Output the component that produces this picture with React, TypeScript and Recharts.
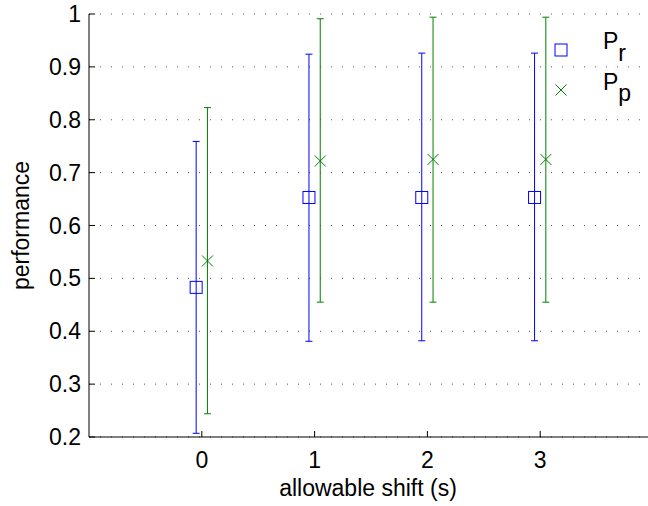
import React from 'react';
import { ScatterChart, Scatter, XAxis, YAxis, CartesianGrid, ErrorBar, Legend } from 'recharts';

const shifts = [0, 1, 2, 3];
const prMean = [0.483, 0.653, 0.653, 0.653];
const prLow = [0.207, 0.381, 0.382, 0.382];
const prHigh = [0.759, 0.924, 0.926, 0.926];
const ppMean = [0.533, 0.722, 0.725, 0.725];
const ppLow = [0.244, 0.455, 0.455, 0.455];
const ppHigh = [0.823, 0.991, 0.994, 0.994];
const xTicks = [0, 1, 2, 3];
const yTicks = [0.2, 0.3, 0.4, 0.5, 0.6, 0.7, 0.8, 0.9, 1];
const yTickLabels = ['0.2', '0.3', '0.4', '0.5', '0.6', '0.7', '0.8', '0.9', '1'];
const seriesNames = ['r', 'p'];

const OFFSET = 0.05;
const BLUE = '#0000ff';
const GREEN = '#008000';
const FONT = '"Liberation Sans", Arial, Helvetica, sans-serif';

const prData = shifts.map((s, i) => ({
  x: s - OFFSET,
  y: prMean[i],
  errR: [prMean[i] - prLow[i], prHigh[i] - prMean[i]],
}));
const ppData = shifts.map((s, i) => ({
  x: s + OFFSET,
  y: ppMean[i],
  errP: [ppMean[i] - ppLow[i], ppHigh[i] - ppMean[i]],
}));

const SquareShape = (props: any) => {
  const { cx, cy } = props;
  return <rect x={cx - 6} y={cy - 6} width={12} height={12} fill="none" stroke={BLUE} strokeWidth={1} />;
};
const CrossShape = (props: any) => {
  const { cx, cy } = props;
  const r = 5.5;
  return (
    <g stroke={GREEN} strokeWidth={1}>
      <line x1={cx - r} y1={cy - r} x2={cx + r} y2={cy + r} />
      <line x1={cx - r} y1={cy + r} x2={cx + r} y2={cy - r} />
    </g>
  );
};

const XTick = (props: any) => {
  const { x, y, payload } = props;
  return (
    <g>
      <line x1={x} x2={x} y1={y} y2={y - 6} stroke="#000" strokeWidth={1} />
      <text x={x} y={y + 31} textAnchor="middle" fontSize={23} fontFamily={FONT} fill="#000">
        {String(payload.value)}
      </text>
    </g>
  );
};

const YTick = (props: any) => {
  const { x, y, payload } = props;
  const idx = yTicks.indexOf(payload.value);
  const label = idx >= 0 ? yTickLabels[idx] : String(payload.value);
  return (
    <g>
      <line x1={x} x2={x + 6} y1={y} y2={y} stroke="#000" strokeWidth={1} />
      <text x={x - 8} y={y + 8} textAnchor="end" fontSize={23} fontFamily={FONT} fill="#000">
        {label}
      </text>
    </g>
  );
};

const LegendContent = () => (
  <svg width={108} height={100} style={{ display: 'block' }}>
    <rect x={15} y={24} width={12} height={12} fill="none" stroke={BLUE} strokeWidth={1} />
    <g stroke={GREEN} strokeWidth={1}>
      <line x1={15.5} y1={64.5} x2={26.5} y2={75.5} />
      <line x1={15.5} y1={75.5} x2={26.5} y2={64.5} />
    </g>
    <text x={63} y={29} fontSize={23} fontFamily={FONT} fill="#000">
      P<tspan dy={12}>{seriesNames[0]}</tspan>
    </text>
    <text x={63} y={70} fontSize={23} fontFamily={FONT} fill="#000">
      P<tspan dy={11}>{seriesNames[1]}</tspan>
    </text>
  </svg>
);

export default function App() {
  return (
    <div style={{ position: 'absolute', left: 0, top: 0, width: 648, height: 506, overflow: 'hidden', background: '#fff' }}>
      <ScatterChart width={653} height={506} margin={{ top: 14, right: 0, bottom: 0, left: 0 }}>
        <CartesianGrid vertical={false} stroke="#555" strokeDasharray="1 10" />
        <XAxis
          dataKey="x"
          type="number"
          domain={[-1, 4]}
          ticks={xTicks}
          height={69}
          tickSize={0}
          tickMargin={0}
          tick={<XTick />}
          axisLine={{ stroke: '#000', strokeWidth: 1 }}
          tickLine={false}
          interval={0}
          label={(p: any) => (
            <text x={368} y={496} textAnchor="middle" fontSize={23} fontFamily={FONT} fill="#000">
              allowable shift (s)
            </text>
          )}
        />
        <YAxis
          dataKey="y"
          type="number"
          domain={[0.2, 1]}
          ticks={yTicks}
          width={89}
          tickSize={0}
          tickMargin={0}
          tick={<YTick />}
          axisLine={{ stroke: '#000', strokeWidth: 1 }}
          tickLine={false}
          interval={0}
          label={(p: any) => (
            <text
              x={29}
              y={225.5}
              transform="rotate(-90 29 225.5)"
              textAnchor="middle"
              fontSize={23}
              fontFamily={FONT}
              fill="#000"
            >
              performance
            </text>
          )}
        />
        <Legend
          layout="horizontal"
          verticalAlign="middle"
          align="center"
          wrapperStyle={{ position: 'absolute', left: 540, top: 20, width: 108, height: 100 }}
          content={() => <LegendContent />}
        />
        <Scatter name="Pr" data={prData} shape={<SquareShape />} isAnimationActive={false}>
          <ErrorBar dataKey="errR" direction="y" width={3.5} stroke={BLUE} strokeWidth={1} isAnimationActive={false} />
        </Scatter>
        <Scatter name="Pp" data={ppData} shape={<CrossShape />} isAnimationActive={false}>
          <ErrorBar dataKey="errP" direction="y" width={3.5} stroke={GREEN} strokeWidth={1} isAnimationActive={false} />
        </Scatter>
      </ScatterChart>
    </div>
  );
}
